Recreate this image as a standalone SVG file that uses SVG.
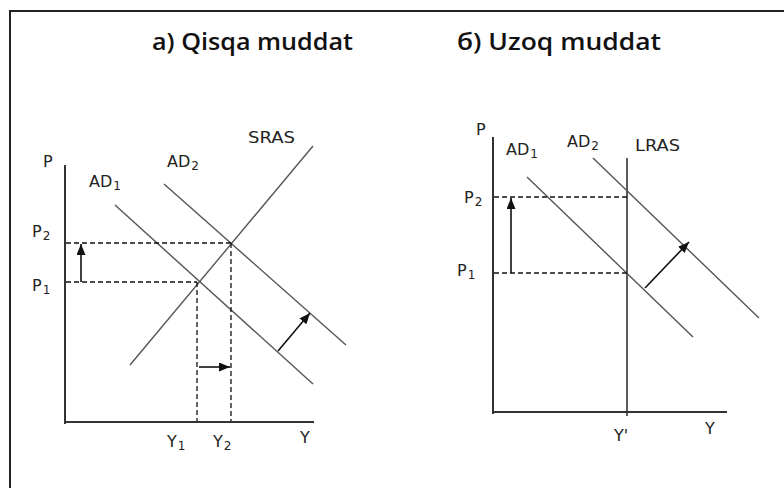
<svg xmlns="http://www.w3.org/2000/svg" width="784" height="488" viewBox="0 0 784 488">
<style>
.bg{fill:#fff}
.frame{fill:none;stroke:#222;stroke-width:2}
.axis{fill:none;stroke:#333;stroke-width:2}
.curve{fill:none;stroke:#555;stroke-width:1.4}
.dash{fill:none;stroke:#111;stroke-width:1.3;stroke-dasharray:5,3}
.arr{fill:none;stroke:#111;stroke-width:1.6}
.title{font-family:"Open Sans","Liberation Sans",sans-serif;font-size:24px;font-weight:600;fill:#111}
.lbl{font-family:"DejaVu Sans","Liberation Sans",sans-serif;font-size:16px;fill:#222}
.sub{font-size:12px}
</style>
<defs>
<marker id="ah" markerUnits="userSpaceOnUse" markerWidth="12" markerHeight="10" refX="11" refY="4.5" orient="auto">
<path d="M0,0 L11,4.5 L0,9 z" fill="#111"/>
</marker>
</defs>
<rect class="bg" x="0" y="0" width="784" height="488"/>
<path class="frame" d="M10,488 V11 H784"/>

<g id="titles">
<text class="title" x="152" y="50" textLength="201" lengthAdjust="spacingAndGlyphs">a) Qisqa muddat</text>
<text class="title" x="457" y="50" textLength="204" lengthAdjust="spacingAndGlyphs">б) Uzoq muddat</text>
</g>

<g id="chart-a">
<g id="axes-a">
<path class="axis" d="M65,165 V424 M64,422 H314"/>
</g>
<g id="curves-a">
<line id="sras" class="curve" x1="130" y1="365" x2="313" y2="146"/>
<line id="ad1-a" class="curve" x1="115" y1="205" x2="313" y2="384"/>
<line id="ad2-a" class="curve" x1="164" y1="184" x2="346" y2="345"/>
</g>
<g id="connectors-a">
<line class="dash" x1="66" y1="243" x2="231" y2="243"/>
<line class="dash" x1="66" y1="282" x2="197" y2="282"/>
<line class="dash" x1="197" y1="282" x2="197" y2="421"/>
<line class="dash" x1="231" y1="243" x2="231" y2="421"/>
<line class="arr" x1="81" y1="282" x2="81" y2="244" marker-end="url(#ah)"/>
<line class="arr" x1="199" y1="367" x2="230" y2="367" marker-end="url(#ah)"/>
<line class="arr" x1="278" y1="351" x2="310" y2="313" marker-end="url(#ah)"/>
</g>
<g id="labels-a">
<text class="lbl" x="43" y="167">P</text>
<text class="lbl" x="32" y="237">P<tspan class="sub" dx="1" dy="3">2</tspan></text>
<text class="lbl" x="32" y="291">P<tspan class="sub" dx="1" dy="3">1</tspan></text>
<text class="lbl" x="89" y="187">AD<tspan class="sub" dx="1" dy="3">1</tspan></text>
<text class="lbl" x="167" y="167">AD<tspan class="sub" dx="1" dy="3">2</tspan></text>
<text class="lbl" x="248" y="143" textLength="47" lengthAdjust="spacingAndGlyphs">SRAS</text>
<text class="lbl" x="167" y="447">Y<tspan class="sub" dx="1" dy="3">1</tspan></text>
<text class="lbl" x="213" y="447">Y<tspan class="sub" dx="1" dy="3">2</tspan></text>
<text class="lbl" x="300" y="443">Y</text>
</g>
</g>

<g id="chart-b">
<g id="axes-b">
<path class="axis" d="M493,137 V414 M492,412 H727"/>
<line id="lras" class="axis" x1="627" y1="158" x2="627" y2="416" style="stroke-width:1.6"/>
</g>
<g id="curves-b">
<line id="ad1-b" class="curve" x1="527" y1="177" x2="693" y2="337"/>
<line id="ad2-b" class="curve" x1="593" y1="158" x2="759" y2="318"/>
</g>
<g id="connectors-b">
<line class="dash" x1="494" y1="197" x2="627" y2="197"/>
<line class="dash" x1="494" y1="273" x2="627" y2="273"/>
<line class="arr" x1="511" y1="273" x2="511" y2="198" marker-end="url(#ah)"/>
<line class="arr" x1="645" y1="288" x2="689" y2="242" marker-end="url(#ah)"/>
</g>
<g id="labels-b">
<text class="lbl" x="476" y="135">P</text>
<text class="lbl" x="464" y="203">P<tspan class="sub" dx="1" dy="3">2</tspan></text>
<text class="lbl" x="457" y="276">P<tspan class="sub" dx="1" dy="3">1</tspan></text>
<text class="lbl" x="506" y="155">AD<tspan class="sub" dx="1" dy="3">1</tspan></text>
<text class="lbl" x="567" y="147">AD<tspan class="sub" dx="1" dy="3">2</tspan></text>
<text class="lbl" x="635" y="151" textLength="45" lengthAdjust="spacingAndGlyphs">LRAS</text>
<text class="lbl" x="614" y="441">Y'</text>
<text class="lbl" x="705" y="434">Y</text>
</g>
</g>
</svg>
